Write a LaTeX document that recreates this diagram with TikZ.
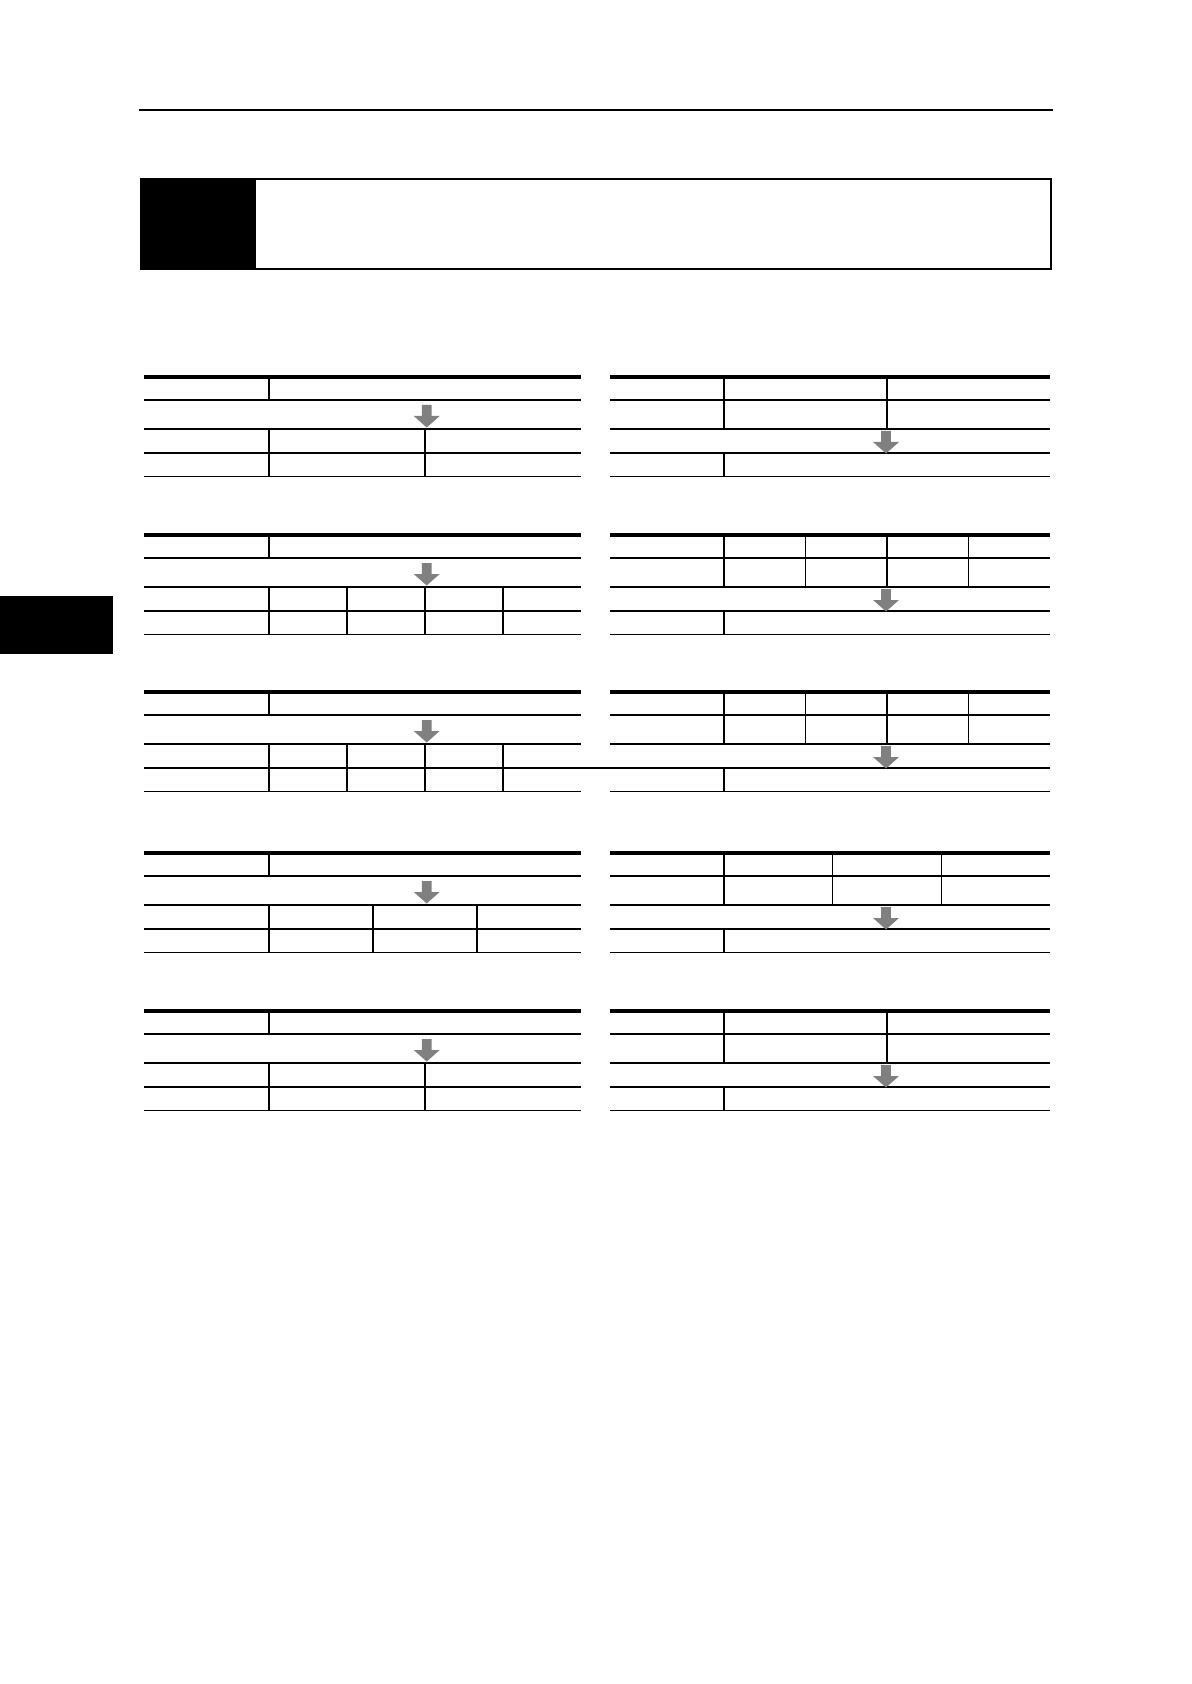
\documentclass[tikz,border=0pt]{standalone}
\usetikzlibrary{positioning}
\definecolor{arrowgray}{RGB}{128,128,128}
\begin{document}
\begin{tikzpicture}[
    x=0.5pt, y=-0.5pt,
    rule/.style={line width=0.65pt},
    toprule/.style={line width=2pt},
    frame/.style={line width=0.8pt},
    downarrow/.style={fill=arrowgray}
]
    \useasboundingbox (0,0) rectangle (1191,1684);

    % Page header and title box
    \draw [frame] (139,110) -- (1053,110);
    \draw [frame] (141,179) rectangle (1051,269);
    \fill (141,179) rectangle (256,269);
    \fill (0,596) rectangle (113,654);

    % Left tables
    \foreach \t/\cols in {377/{425}, 535/{347,425,503}, 692/{347,425,503}, 853/{373,477}, 1011/{425}} {
        \draw [toprule] (144,\t) -- (581,\t);
        \foreach \dy in {23,52,76,99.5}
            \draw [rule] (144,\t+\dy) -- (581,\t+\dy);
        \draw [rule] (269,\t) -- (269,\t+23);
        \draw [rule] (269,\t+52) -- (269,\t+99.5);
        \foreach \c in \cols
            \draw [rule] (\c,\t+52) -- (\c,\t+99.5);
        \fill [downarrow] (421.8,\t+28) -- (431.6,\t+28) -- (431.6,\t+39) -- (439.7,\t+39)
            -- (426.7,\t+50.5) -- (413.7,\t+39) -- (421.8,\t+39) -- cycle;
    }

    % Right tables
    \foreach \t/\cols in {377/{887}, 535/{805.5,887,968.5}, 692/{805.5,887,968.5}, 853/{832.7,941.3}, 1011/{887}} {
        \draw [toprule] (610,\t) -- (1050,\t);
        \foreach \dy in {23,52,76,99.5}
            \draw [rule] (610,\t+\dy) -- (1050,\t+\dy);
        \draw [rule] (724,\t) -- (724,\t+52);
        \draw [rule] (724,\t+76) -- (724,\t+99.5);
        \foreach \c in \cols
            \draw [rule] (\c,\t) -- (\c,\t+52);
        \fill [downarrow] (881.1,\t+54) -- (890.9,\t+54) -- (890.9,\t+65) -- (899,\t+65)
            -- (886,\t+76.5) -- (873,\t+65) -- (881.1,\t+65) -- cycle;
    }

    % Rule running through the gap
    \draw [rule] (581,768) -- (610,768);
\end{tikzpicture}
\end{document}
